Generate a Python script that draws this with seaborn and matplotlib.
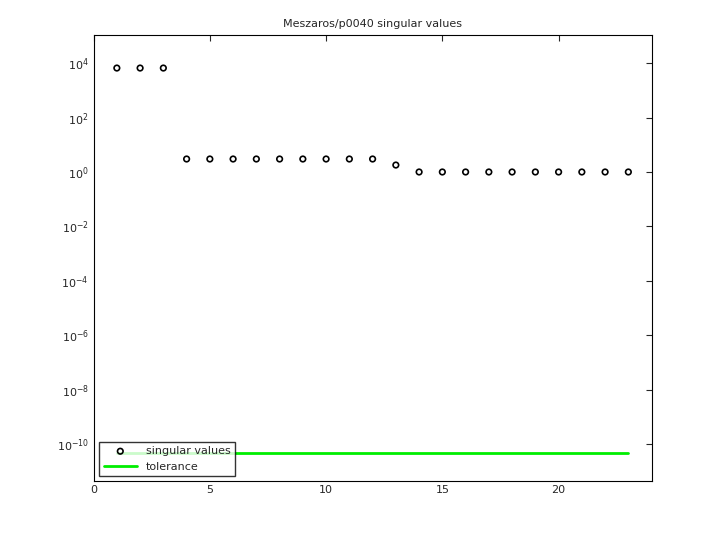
import numpy as np
import matplotlib
matplotlib.use("Agg")
import matplotlib.pyplot as plt
import seaborn as sns

idx = list(range(1, 24))
sv = [6600, 6600, 6600, 3.0, 3.0, 3.0, 3.0, 3.0, 3.0, 3.0, 3.0, 3.0, 1.8,
      1.0, 1.0, 1.0, 1.0, 1.0, 1.0, 1.0, 1.0, 1.0, 1.0]
tol = 4.9e-11

sns.set_style("white")
plt.rcParams['font.family'] = ['DejaVu Sans']
fig, ax = plt.subplots(figsize=(7.2, 5.4), dpi=100)
fig.subplots_adjust(left=0.13, right=0.905, top=0.935, bottom=0.11)

sns.scatterplot(x=idx, y=sv, ax=ax, marker='o', s=16, facecolors='none',
                edgecolor='black', linewidth=1.2, label='singular values')
sns.lineplot(x=[1, 23], y=[tol, tol], ax=ax, color='#00ee00', linewidth=2, label='tolerance')

ax.set_yscale('log')
ax.set_xlim(0, 24)
ax.set_ylim(10**-11.34, 10**5.03)
ax.set_yticks([10.0**k for k in range(-10, 5, 2)])
ax.minorticks_off()
ax.set_xticks([0, 5, 10, 15, 20])
ax.tick_params(labelsize=8, direction='in', length=4, top=True, right=True)
for s in ax.spines.values():
    s.set_color('black')
    s.set_linewidth(0.8)
ax.set_title('Meszaros/p0040 singular values', fontsize=8)
leg = ax.legend(loc='lower left', fontsize=8, frameon=True, fancybox=False,
                bbox_to_anchor=(0.01, 0.01), borderaxespad=0, handlelength=3)
leg.get_frame().set_edgecolor('black')
fig.savefig('out.png', dpi=100)
